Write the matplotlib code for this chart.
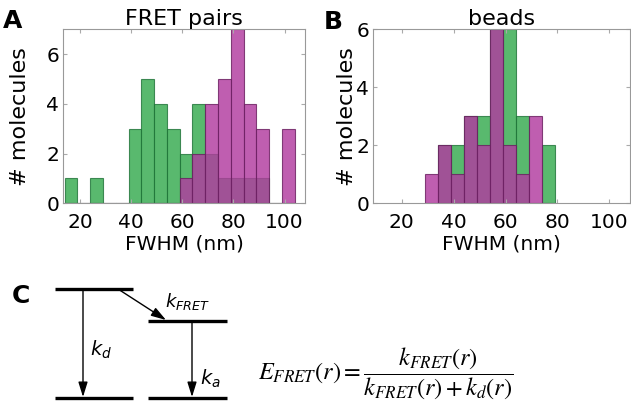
import matplotlib
matplotlib.use('Agg')
import matplotlib.pyplot as plt

# ---------------- data ----------------
bins_fret = [14, 19, 24, 29, 34, 39, 44, 49, 54, 59, 64, 69, 74, 79, 84, 89, 94, 99]
fret_green = [1, 0, 1, 0, 0, 3, 5, 4, 3, 2, 4, 2, 1, 1, 1, 1, 0, 0]
fret_magenta = [0, 0, 0, 0, 0, 0, 0, 0, 0, 1, 2, 4, 5, 7, 4, 3, 0, 3]

bins_beads = [29, 34, 39, 44, 49, 54, 59, 64, 69, 74]
beads_green = [0, 2, 2, 3, 3, 6, 6, 3, 0, 2]
beads_magenta = [1, 2, 1, 3, 2, 6, 2, 1, 3, 0]

bin_width = 5
xticks = [20, 40, 60, 80, 100]
yticks = [0, 2, 4, 6]

GREEN = (0.19, 0.66, 0.29)
MAGENTA = (0.695, 0.232, 0.622)
FS = 14.5

fig = plt.figure(figsize=(6.31, 4.08), dpi=100)

# overlay axes in pixel coordinates for panel C and letters
axc = fig.add_axes([0, 0, 1, 1], zorder=-1)
axc.set_xlim(0, 631)
axc.set_ylim(408, 0)
axc.axis('off')


def hist_axes(rect, bins, green, magenta, xlim, ylim, title, ylab_x):
    ax = fig.add_axes(rect)
    ax.bar(bins, green, width=bin_width, align='edge', color=GREEN, alpha=0.8,
           edgecolor=(0.12, 0.45, 0.22), linewidth=0.8)
    ax.bar(bins, magenta, width=bin_width, align='edge', color=MAGENTA, alpha=0.82,
           edgecolor=(0.42, 0.12, 0.38), linewidth=0.8)
    ax.set_xlim(*xlim)
    ax.set_ylim(*ylim)
    ax.set_xticks(xticks)
    ax.set_yticks(yticks)
    ax.tick_params(direction='in', length=3, color='#aaaaaa', top=True, right=True,
                   labelsize=FS)
    ax.tick_params(axis='x', pad=7)
    ax.tick_params(axis='y', pad=3)
    for s in ax.spines.values():
        s.set_color('#999999')
        s.set_linewidth(0.8)
    ax.set_xlabel('FWHM (nm)', fontsize=FS, labelpad=2)
    ax.set_ylabel('# molecules', fontsize=16)
    ax.yaxis.set_label_coords(ylab_x, 0.5)
    ax.set_title(title, fontsize=16, pad=3)
    return ax


axA = hist_axes([0.1003, 0.5017, 0.383, 0.4265], bins_fret, fret_green, fret_magenta,
                (13.5, 108), (0, 7), 'FRET pairs', -0.138)
axB = hist_axes([0.5916, 0.5017, 0.407, 0.4265], bins_beads, beads_green, beads_magenta,
                (9, 108), (0, 6), 'beads', -0.062)

# panel letters
axc.text(3, 21, 'A', fontsize=18, fontweight='bold', va='center', ha='left')
axc.text(324, 22, 'B', fontsize=18, fontweight='bold', va='center', ha='left')
axc.text(12, 296, 'C', fontsize=18, fontweight='bold', va='center', ha='left')

# ---------------- panel C: energy diagram ----------------
lw_level = 2.4
for (x0, x1, y) in [(55, 133, 289), (148, 227, 321), (55, 133, 398), (148, 227, 398)]:
    axc.plot([x0, x1], [y, y], color='black', lw=lw_level, solid_capstyle='butt')

arrow_kw = dict(arrowstyle='-|>,head_length=0.9,head_width=0.28', color='black', lw=1.0,
                shrinkA=0, shrinkB=0)
axc.annotate('', xy=(83, 397), xytext=(83, 289), arrowprops=arrow_kw)
axc.annotate('', xy=(192, 397), xytext=(192, 321), arrowprops=arrow_kw)
axc.annotate('', xy=(166, 320), xytext=(118, 289), arrowprops=arrow_kw)

axc.text(187, 302, r'$k_{FRET}$', fontsize=13, ha='center', va='center',
         math_fontfamily='dejavusans')
axc.text(101, 350, r'$k_{d}$', fontsize=14, ha='center', va='center',
         math_fontfamily='dejavusans')
axc.text(210, 379, r'$k_{a}$', fontsize=14, ha='center', va='center',
         math_fontfamily='dejavusans')

axc.text(258, 374, r'$E_{FRET}(r) = \dfrac{k_{FRET}(r)}{k_{FRET}(r)+k_{d}(r)}$',
         fontsize=17.5, ha='left', va='center', math_fontfamily='stix')

fig.savefig('out.png', dpi=100)
